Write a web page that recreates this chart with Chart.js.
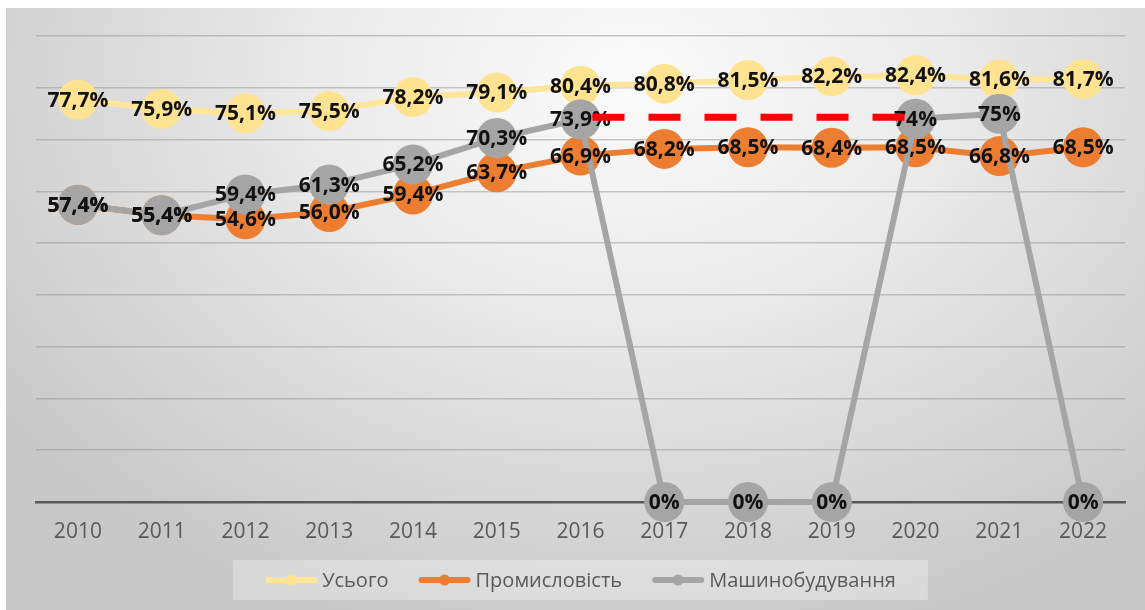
<!DOCTYPE html>
<html>
<head>
<meta charset="utf-8">
<script src="https://cdn.jsdelivr.net/npm/chart.js@4"></script>
<style>
  body { margin: 0; background: #fff; }
  #wrap {
    position: absolute; left: 6px; top: 8px; width: 1139px; height: 602px;
    background: radial-gradient(ellipse 68% 95% at 55% 12%, #fbfbfb 0%, #ebebeb 40%, #d8d8d8 72%, #c8c8c8 100%);
  }
  canvas { display: block; }
</style>
</head>
<body>
<div id="wrap"><canvas id="chart" width="1139" height="602"></canvas></div>
<script>
var years = ['2010', '2011', '2012', '2013', '2014', '2015', '2016', '2017', '2018', '2019', '2020', '2021', '2022'];
var total = [77.7, 75.9, 75.1, 75.5, 78.2, 79.1, 80.4, 80.8, 81.5, 82.2, 82.4, 81.6, 81.7];
var industry = [57.4, 55.4, 54.6, 56.0, 59.4, 63.7, 66.9, 68.2, 68.5, 68.4, 68.5, 66.8, 68.5];
var machinery = [57.4, 55.4, 59.4, 61.3, 65.2, 70.3, 73.9, 0, 0, 0, 74, 75, 0];
var seriesNames = ['Усього', 'Промисловість', 'Машинобудування'];
var dashFrom = '2016';
var dashTo = '2020';
var dashLevel = 74.3;

var FONT = '"Open Sans", "Noto Sans", sans-serif';

function fmt(v, keepInt) {
  if (keepInt && Number.isInteger(v)) return v + '%';
  return v.toFixed(1).replace('.', ',') + '%';
}

var labelPlugin = {
  id: 'valueLabels',
  afterDatasetsDraw: function (chart) {
    var ctx = chart.ctx;
    ctx.save();
    ctx.font = 'bold 21px ' + FONT;
    ctx.fillStyle = '#111';
    ctx.textAlign = 'center';
    ctx.textBaseline = 'middle';
    chart.data.datasets.forEach(function (ds, di) {
      var meta = chart.getDatasetMeta(di);
      meta.data.forEach(function (pt, i) {
        ctx.fillText(fmt(ds.data[i], di === 2), pt.x, pt.y + 1);
      });
    });
    ctx.restore();
  },
  afterDraw: function (chart) {
    var ctx = chart.ctx;
    var xs = chart.scales.x, ys = chart.scales.y;

    // red dashed marker line
    var x1 = xs.getPixelForValue(years.indexOf(dashFrom));
    var x2 = xs.getPixelForValue(years.indexOf(dashTo));
    var y = ys.getPixelForValue(dashLevel);
    ctx.save();
    ctx.strokeStyle = '#ff0000';
    ctx.lineWidth = 7;
    ctx.setLineDash([32, 24]);
    ctx.lineDashOffset = 44;
    ctx.beginPath();
    ctx.moveTo(x1, y);
    ctx.lineTo(x2, y);
    ctx.stroke();
    ctx.restore();

    // legend
    ctx.save();
    ctx.font = '20px ' + FONT;
    var iconW = 52, gapText = 5, gapItem = 30, padX = 32;
    var widths = seriesNames.map(function (n) { return ctx.measureText(n).width; });
    var content = 0;
    widths.forEach(function (w, i) { content += iconW + gapText + w + (i ? gapItem : 0); });
    var boxW = content + padX * 2;
    var cx = (chart.chartArea.left + chart.chartArea.right) / 2;
    var boxX = cx - boxW / 2, boxY = 552, boxH = 40;
    ctx.fillStyle = 'rgba(255,255,255,0.3)';
    ctx.fillRect(boxX, boxY, boxW, boxH);
    var x = boxX + padX, cy = boxY + boxH / 2;
    chart.data.datasets.forEach(function (ds, i) {
      ctx.strokeStyle = ds.borderColor;
      ctx.lineWidth = 6;
      ctx.lineCap = 'round';
      ctx.beginPath();
      ctx.moveTo(x + 3, cy);
      ctx.lineTo(x + iconW - 3, cy);
      ctx.stroke();
      ctx.fillStyle = ds.pointBackgroundColor;
      ctx.beginPath();
      ctx.arc(x + iconW / 2, cy, 5.5, 0, Math.PI * 2);
      ctx.fill();
      ctx.fillStyle = '#595959';
      ctx.textAlign = 'left';
      ctx.textBaseline = 'middle';
      ctx.fillText(seriesNames[i], x + iconW + gapText, cy + 1);
      x += iconW + gapText + widths[i] + gapItem;
    });
    ctx.restore();
  }
};

function lineSet(name, values, color, pointColor, order) {
  return {
    label: name,
    data: values,
    borderColor: color,
    backgroundColor: color,
    pointBackgroundColor: pointColor,
    pointBorderWidth: 0,
    pointRadius: 20,
    pointHoverRadius: 20,
    borderWidth: 6,
    tension: 0,
    clip: false,
    order: order
  };
}

new Chart(document.getElementById('chart'), {
  type: 'line',
  data: {
    labels: years,
    datasets: [
      lineSet(seriesNames[0], total, '#FFE699', '#FFE391', 2),
      lineSet(seriesNames[1], industry, '#ED7D31', '#ED7D31', 1),
      lineSet(seriesNames[2], machinery, '#A5A5A5', '#A5A5A5', 0)
    ]
  },
  options: {
    responsive: false,
    animation: false,
    devicePixelRatio: 1,
    layout: { padding: { left: 30, right: 18, top: 28, bottom: 0 } },
    plugins: { legend: { display: false }, tooltip: { enabled: false } },
    scales: {
      x: {
        offset: true,
        grid: { display: false, drawTicks: false },
        border: { display: true, color: '#595959', width: 2.5 },
        ticks: { color: '#595959', font: { family: FONT, size: 21 }, padding: 17 },
        afterFit: function (s) { s.height = 108; }
      },
      y: {
        min: 0,
        max: 90,
        ticks: { display: false, stepSize: 10 },
        border: { display: false },
        grid: { color: 'rgba(140,140,140,0.45)', lineWidth: 1.5, drawTicks: false },
        afterFit: function (s) { s.width = 0; }
      }
    }
  },
  plugins: [labelPlugin]
});
</script>
</body>
</html>
